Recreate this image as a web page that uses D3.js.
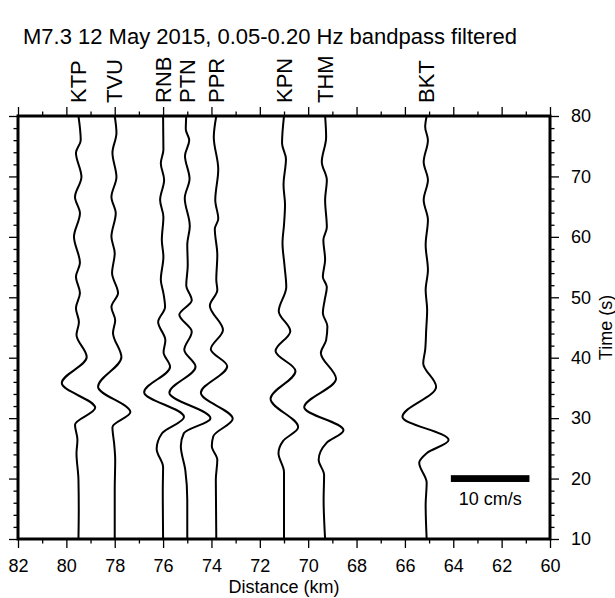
<!DOCTYPE html>
<html lang="en">
<head>
    <meta charset="UTF-8">
    <title>M7.3 12 May 2015 record section - D3.js</title>
    <script src="https://d3js.org/d3.v7.min.js"></script>
    <style>
        body { margin: 0; background: #fff; }
        svg { font-family: "Liberation Sans", Arial, Helvetica, sans-serif; }
        .tick line { stroke: #000; stroke-width: 1.3px; }
        .tick text { font-size: 18px; fill: #000; }
        .trace { fill: none; stroke: #000; stroke-width: 2px; }
        .station { font-size: 22px; }
    </style>
</head>
<body>
<svg width="615" height="598"></svg>
<script>
    const width = 615;
    const height = 598;

    // stations and epicentral distances (km)
    const stations = ["KTP", "TVU", "RNB", "PTN", "PPR", "KPN", "THM", "BKT"];
    const distances = [79.5, 78.0, 76.0, 75.0, 73.8, 71.0, 69.3, 65.1];

    // [time (s), velocity (cm/s)], positive toward smaller distance
    const ktp = [[80,0],[76,0.29],[73.9,-0.32],[69.9,0.38],[66.6,-0.44],[63.9,0.19],[60,-0.57],[55.7,0.19],[53.4,-0.32],[50.7,0.19],[48.2,-0.32],[45.9,0.06],[43.8,-0.25],[40.1,1.05],[35.8,-2.12],[31.7,2.13],[28.9,-0.44],[26.4,-0.13],[24.2,-0.25],[19.8,0],[14.8,0.04],[10,0]];
    const tvu = [[80,0],[77.2,0.22],[73.9,-0.29],[69.9,0.22],[66.6,-0.42],[63.9,0.13],[60,-0.42],[57.3,0],[54,-0.34],[50.7,0.42],[48.4,-0.42],[46.2,0.06],[44.1,-0.22],[40.1,0.85],[35.2,-2.12],[31.0,1.99],[28.5,-0.29],[25.6,-0.06],[23.1,0.06],[18,0],[10,0]];
    const rnb = [[80,0],[74.4,0.04],[72.2,-0.29],[69.4,0.13],[66.1,-0.38],[63.3,0.04],[59.5,-0.16],[56.7,0.04],[52.9,-0.29],[50.7,0.04],[48.4,0.25],[45.9,-0.63],[42.9,0.29],[40.9,0.06],[38.5,0.89],[34.3,-2.41],[30.2,2.66],[27.5,-0.13],[24.9,-0.82],[21.9,0],[18.1,-0.04],[10,0]];
    const ptn = [[80,-0.13],[77.8,-0.19],[76.0,0.25],[73.4,-0.29],[69.6,0.29],[66.4,-0.32],[61.8,0.32],[58.7,0],[55.3,0.06],[52.0,-0.13],[49.5,0.57],[47.1,-1.01],[44.3,0.57],[41.3,-0.38],[38.5,1.05],[34.2,-2.28],[30.0,2.95],[27.5,-0.44],[25.4,-0.82],[21.4,-0.25],[16.5,0],[10,0]];
    const ppr = [[80,0],[76.5,-0.32],[71.2,0.25],[66.1,-0.13],[63.0,0.25],[61.3,-0.19],[57.0,0.13],[52.9,0],[51.2,0.13],[48.6,-0.82],[44.6,0.85],[41.4,-0.7],[38.6,1.39],[34.2,-1.96],[29.9,2.09],[27.0,-0.38],[25.4,-0.57],[23.1,0.13],[19.8,-0.06],[10,0]];
    const kpn = [[80,0],[75.5,-0.25],[72.9,0.25],[68.6,-0.06],[65.3,0.13],[62.0,0],[59.0,-0.19],[55.3,0.06],[51.7,0.29],[47.7,-0.67],[44.4,0.8],[41.1,-1.08],[37.8,1.46],[33.2,-1.71],[28.5,1.8],[26.2,-0.13],[24.2,-0.7],[21.1,0],[10,0]];
    const thm = [[80,0],[76.5,0.13],[72.4,-0.42],[69.4,0.22],[66.1,0],[61.6,0.22],[59.5,-0.22],[56.2,0],[53.4,-0.29],[51.7,0.22],[49.5,-0.06],[47.4,-0.29],[45.2,0.29],[42.9,0.13],[40.8,-0.54],[36.5,1.39],[31.8,-2.66],[28.0,2.34],[25.9,0.19],[23.1,-0.82],[20.6,-0.13],[16.5,-0.19],[10,0]];
    const bkt = [[80,0],[78.2,-0.19],[76.0,0.16],[72.4,-0.38],[69.4,0.16],[66.1,-0.38],[62.8,0.16],[58.7,-0.13],[54.5,0.16],[51.2,-0.13],[47.9,0.06],[44.6,-0.06],[41.3,-0.19],[39.1,-0.44],[35.2,1.2],[30.2,-3.08],[26.4,2.79],[24.2,0],[22.6,-0.95],[19.3,0],[15.6,-0.13],[10,0]];
    const traces = [ktp, tvu, rnb, ptn, ppr, kpn, thm, bkt];

    // axis ticks
    const xMajor = d3.range(82, 59, -2);
    const xMinor = d3.range(81, 60, -2);
    const yMajor = [10, 20, 30, 40, 50, 60, 70, 80];
    const yMinor = [12, 14, 16, 18, 22, 24, 26, 28, 32, 34, 36, 38, 42, 44, 46, 48, 52, 54, 56, 58, 62, 64, 66, 68, 72, 74, 76, 78];

    // scale bar
    const barValue = 10;       // cm/s
    const barStart = 64.1;     // km
    const barTime = 20;        // s
    const kmPerCms = 0.325;    // trace gain, km per cm/s

    const x = d3.scaleLinear().domain([82, 60]).range([18, 550]);
    const y = d3.scaleLinear().domain([10, 80]).range([539, 116]);

    const svg = d3.select("svg");

    svg.append("defs").append("clipPath").attr("id", "plot")
        .append("rect")
        .attr("x", x(82)).attr("y", y(80))
        .attr("width", x(60) - x(82)).attr("height", y(10) - y(80));

    // traces
    const g = svg.append("g").attr("clip-path", "url(#plot)");
    traces.forEach((tr, i) => {
        const line = d3.line()
            .x(d => x(distances[i] - d[1] * kmPerCms))
            .y(d => y(d[0]))
            .curve(d3.curveMonotoneY);
        g.append("path").attr("class", "trace").attr("d", line(tr));
    });

    // axes
    function addAxis(axis, tf, values, size, labels, pad) {
        const a = svg.append("g").attr("transform", tf)
            .call(axis.tickValues(values).tickSize(size).tickSizeOuter(0)
                .tickPadding(pad || 8).tickFormat(labels ? d3.format("d") : ""));
        a.select(".domain").remove();
        return a;
    }
    addAxis(d3.axisBottom(x), `translate(0,${y(10)})`, xMajor, 9, true, 11);
    addAxis(d3.axisBottom(x), `translate(0,${y(10)})`, xMinor, 4.5, false);
    addAxis(d3.axisTop(x), `translate(0,${y(80)})`, xMajor, 9, false);
    addAxis(d3.axisTop(x), `translate(0,${y(80)})`, xMinor, 4.5, false);
    addAxis(d3.axisLeft(y), `translate(${x(82)},0)`, yMajor, 9, false);
    addAxis(d3.axisLeft(y), `translate(${x(82)},0)`, yMinor, 4.5, false);
    const ra = addAxis(d3.axisRight(y), `translate(${x(60)},0)`, yMajor, 9, true);
    ra.selectAll("text").attr("x", 21);
    addAxis(d3.axisRight(y), `translate(${x(60)},0)`, yMinor, 4.5, false);

    // frame
    svg.append("rect")
        .attr("x", x(82)).attr("y", y(80))
        .attr("width", x(60) - x(82)).attr("height", y(10) - y(80))
        .attr("fill", "none").attr("stroke", "#000").attr("stroke-width", 3);

    // station names
    svg.selectAll(".station")
        .data(stations)
        .enter().append("text")
        .attr("class", "station")
        .attr("transform", (d, i) => `translate(${x(distances[i])},${y(80) - 13}) rotate(-90)`)
        .attr("dominant-baseline", "central")
        .text(d => d);

    // scale bar
    svg.append("rect")
        .attr("x", x(barStart)).attr("y", y(barTime) - 3.4)
        .attr("width", x(barStart - barValue * kmPerCms) - x(barStart))
        .attr("height", 6.8)
        .attr("fill", "#000");
    svg.append("text")
        .attr("x", x(barStart - barValue * kmPerCms / 2))
        .attr("y", y(barTime) + 26)
        .attr("text-anchor", "middle")
        .attr("font-size", 18)
        .text(barValue + " cm/s");

    // labels
    svg.append("text")
        .attr("x", 23).attr("y", 44)
        .attr("font-size", 22)
        .text("M7.3 12 May 2015, 0.05-0.20 Hz bandpass filtered");
    svg.append("text")
        .attr("x", (x(82) + x(60)) / 2).attr("y", 593)
        .attr("text-anchor", "middle")
        .attr("font-size", 18)
        .text("Distance (km)");
    svg.append("text")
        .attr("transform", `translate(612,${(y(10) + y(80)) / 2}) rotate(-90)`)
        .attr("text-anchor", "middle")
        .attr("font-size", 18)
        .text("Time (s)");
</script>
</body>
</html>
